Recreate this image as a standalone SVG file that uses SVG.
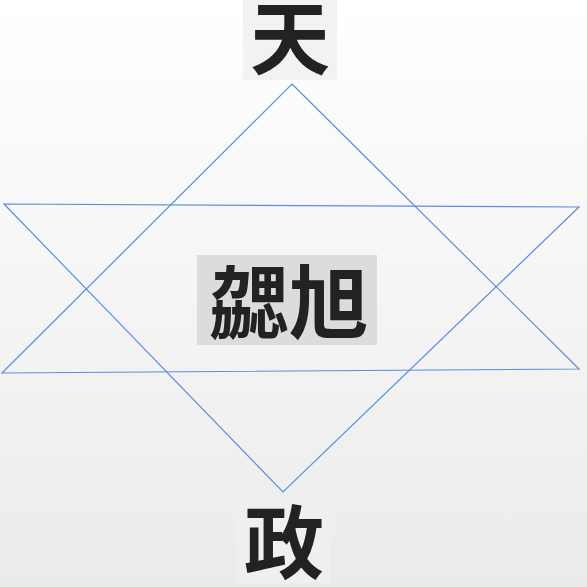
<svg xmlns="http://www.w3.org/2000/svg" width="587" height="587" viewBox="0 0 587 587">
<defs>
<linearGradient id="bg" x1="0" y1="0" x2="0" y2="1">
<stop offset="0" stop-color="#ffffff"/>
<stop offset="1" stop-color="#ebebeb"/>
</linearGradient>
<style>
.edge{fill:none;stroke:#5b8fd9;stroke-width:1.2;stroke-linejoin:miter}
.lbl{font-family:"Noto Sans CJK SC","Noto Sans CJK JP",sans-serif;font-weight:bold;font-size:80px;fill:#222222;text-anchor:middle}
</style>
</defs>
<rect width="587" height="587" fill="url(#bg)"/>
<g id="connectors">
<polygon class="edge" points="292,84 579,369 2,373"/>
<polygon class="edge" points="4,204 579,207 283,492"/>
</g>
<g id="node-top">
<rect x="243" y="0" width="94" height="80" fill="#f2f2f2"/>
<text class="lbl" x="290" y="68">天</text>
</g>
<g id="node-center">
<rect x="197" y="255" width="180" height="90" fill="#dcdcdc"/>
<text class="lbl" x="289" y="332">勰旭</text>
</g>
<g id="node-bottom">
<rect x="237" y="497" width="93" height="86" fill="#efefef"/>
<text class="lbl" x="284" y="572">政</text>
</g>
</svg>
